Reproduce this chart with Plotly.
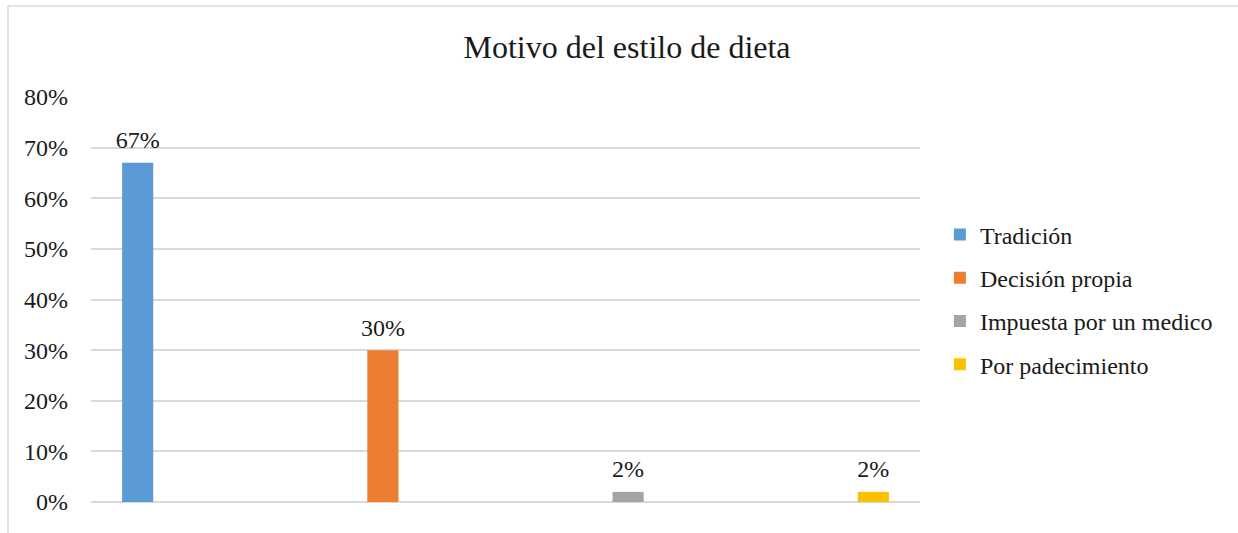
import plotly.graph_objects as go

# Survey results: reason for the diet style
categories = ["Tradición", "Decisión propia", "Impuesta por un medico", "Por padecimiento"]
values = [0.67, 0.30, 0.02, 0.02]
colors = ["#5B9BD5", "#ED7D31", "#A5A5A5", "#FFC000"]
y_ticks = [0, 0.1, 0.2, 0.3, 0.4, 0.5, 0.6, 0.7, 0.8]

FONT = "Liberation Serif, Times New Roman, serif"
GAP = 0.267

fig = go.Figure()
for i, (name, val, col) in enumerate(zip(categories, values, colors)):
    # each series only has a value in its own category
    ys = [val if j == i else None for j in range(len(categories))]
    fig.add_trace(go.Bar(
        x=categories, y=ys, name=name,
        marker=dict(color=col, line=dict(width=0)),
        legendgroup=name, offsetgroup=str(i),
    ))
for i, (name, val) in enumerate(zip(categories, values)):
    ys = [val if j == i else None for j in range(len(categories))]
    # value labels sitting above each bar (grouped like the bars)
    fig.add_trace(go.Scatter(
        x=categories, y=ys, mode="markers+text",
        marker=dict(size=12, opacity=0),
        texttemplate="%{y:.0%}", textposition="top center",
        textfont=dict(family=FONT, size=24, color="#1a1a1a"),
        showlegend=False, hoverinfo="skip", cliponaxis=False,
        offsetgroup=str(i),
    ))

fig.update_layout(
    width=1238, height=533,
    margin=dict(l=91, r=318, t=97, b=31),
    paper_bgcolor="white", plot_bgcolor="white",
    barmode="group", bargap=GAP, bargroupgap=0.18,
    scattermode="group", scattergap=GAP,
    title=dict(text="Motivo del estilo de dieta", x=0.5065, xref="container",
               xanchor="center", y=0.912, yanchor="middle",
               font=dict(family=FONT, size=32, color="#1a1a1a")),
    showlegend=True,
    legend=dict(x=1.024, xanchor="left", y=0.5, yanchor="middle",
                font=dict(family=FONT, size=24, color="#1a1a1a"),
                tracegroupgap=9, itemwidth=30, bgcolor="rgba(0,0,0,0)"),
    xaxis=dict(showticklabels=False, showgrid=False, zeroline=False,
               showline=False, ticks=""),
    yaxis=dict(range=[0, 0.8], tickvals=y_ticks, tickformat=".0%",
               showgrid=True, gridcolor="#d9d9d9", gridwidth=1.5,
               zeroline=True, zerolinecolor="#d9d9d9", zerolinewidth=1.5,
               showline=False, ticks="", ticklabelstandoff=22,
               tickfont=dict(family=FONT, size=24, color="#1a1a1a")),
    shapes=[
        # chart frame edges
        dict(type="line", xref="paper", yref="paper",
             x0=-0.1001, x1=1.5, y0=1.2247, y1=1.2247,
             line=dict(color="#d9d9d9", width=1.5)),
        dict(type="line", xref="paper", yref="paper",
             x0=-0.1001, x1=-0.1001, y0=-0.2, y1=1.2247,
             line=dict(color="#d9d9d9", width=1.5)),
    ],
)

fig.write_html("out.html")
